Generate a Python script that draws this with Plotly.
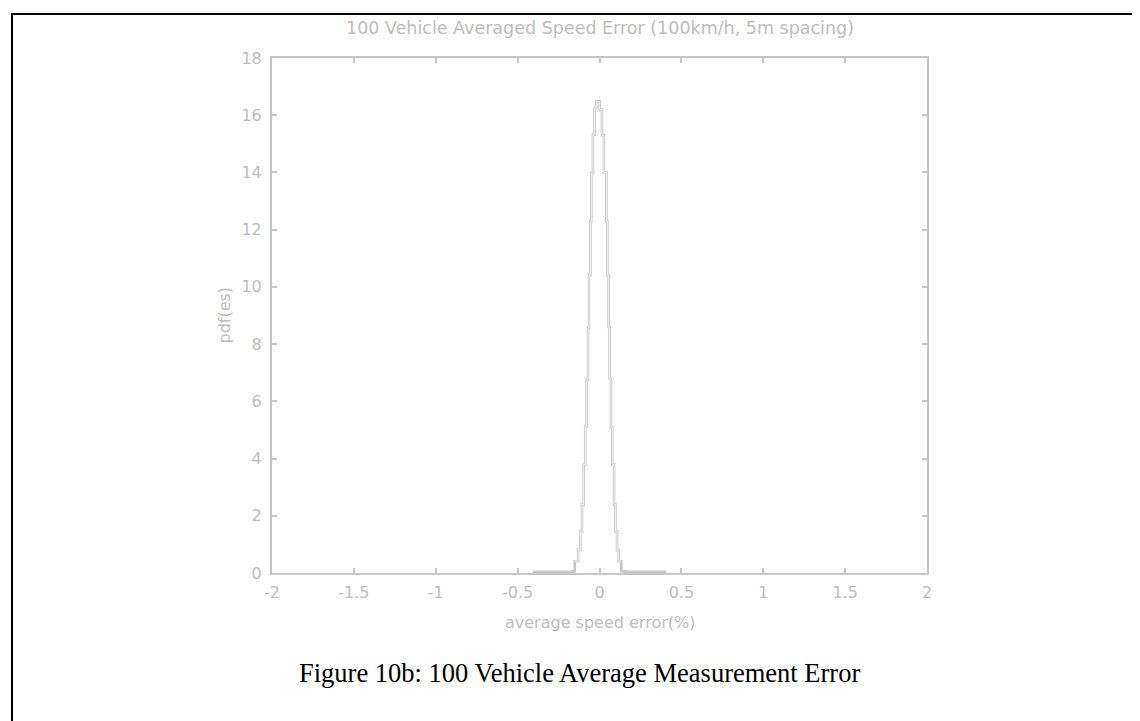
import plotly.graph_objects as go

# ---- data (stair-step pdf) ----
bin_edges = [-0.40, -0.162, -0.151, -0.131, -0.117, -0.107, -0.097, -0.087, -0.078,
             -0.070, -0.064, -0.056, -0.050, -0.040, -0.030, -0.020, 0.001, 0.015,
             0.027, 0.042, 0.048, 0.056, 0.062, 0.070, 0.078, 0.089, 0.097, 0.107,
             0.117, 0.133, 0.154, 0.40]
pdf_values = [0.04, 0.06, 0.41, 0.82, 1.46, 2.39, 3.79, 5.13, 6.76, 8.56, 10.43,
              12.29, 13.98, 15.32, 16.25, 16.49, 16.2, 15.3, 14.0, 12.3, 10.4, 8.6,
              6.8, 5.1, 3.8, 2.4, 1.46, 0.8, 0.41, 0.06, 0.04]

x_ticks = [-2, -1.5, -1, -0.5, 0, 0.5, 1, 1.5, 2]
x_tick_labels = ["-2", "-1.5", "-1", "-0.5", "0", "0.5", "1", "1.5", "2"]
y_ticks = [0, 2, 4, 6, 8, 10, 12, 14, 16, 18]
y_tick_labels = ["0", "2", "4", "6", "8", "10", "12", "14", "16", "18"]

title_text = "100 Vehicle Averaged Speed Error (100km/h, 5m spacing)"
x_label = "average speed error(%)"
y_label = "pdf(es)"
caption = "Figure 10b: 100 Vehicle Average Measurement Error"

# ---- build stair line ----
xs = [bin_edges[0]] + bin_edges
ys = [0] + pdf_values + [0]
# inner part (used for the hollow, double-stroke look of the rasterised line)
inner_x = bin_edges[2:-2]
inner_y = pdf_values[2:-2] + [pdf_values[-3]]

GRAY = "#c6c6c6"
TXT = "#bdbdbd"
FONT = "DejaVu Sans"

W, H = 1140, 721
L, R, T, B = 264, 919, 50, 565
pw, ph = R - L, B - T


def px(x):
    return (x - L) / pw


def py(y):
    return (B - y) / ph


fig = go.Figure()
fig.add_trace(go.Scatter(x=xs, y=ys, mode="lines", line=dict(shape="hv", color=GRAY, width=2.6),
                         hoverinfo="skip", showlegend=False))
fig.add_trace(go.Scatter(x=inner_x, y=inner_y, mode="lines",
                         line=dict(shape="hv", color="white", width=0.8),
                         hoverinfo="skip", showlegend=False))

axis_common = dict(showline=True, linecolor=GRAY, linewidth=2, mirror="ticks",
                   ticks="inside", ticklen=5, tickwidth=1.5, tickcolor=GRAY,
                   showgrid=False, zeroline=False,
                   tickfont=dict(family=FONT, size=16, color=TXT))

fig.update_xaxes(range=[-2, 2], tickvals=x_ticks, ticktext=x_tick_labels,
                 ticklabelstandoff=4, **axis_common)
fig.update_yaxes(range=[0, 18], tickvals=y_ticks, ticktext=y_tick_labels,
                 ticklabelstandoff=5, **axis_common)

annotations = [
    dict(text=title_text, x=0.5, y=1, xref="paper", yref="paper", xanchor="center",
         yanchor="middle", yshift=T - 20, showarrow=False,
         font=dict(family=FONT, size=17.5, color=TXT)),
    dict(text=x_label, x=0.5, y=0, xref="paper", yref="paper", xanchor="center",
         yanchor="middle", yshift=-(614 - B), showarrow=False,
         font=dict(family=FONT, size=16, color=TXT)),
    dict(text=y_label, x=0, y=0.5, xref="paper", yref="paper", xanchor="center",
         yanchor="middle", xshift=-(L - 216), textangle=-90, showarrow=False,
         font=dict(family=FONT, size=16, color=TXT)),
    dict(text=caption, x=px(571), y=py(665), xref="paper", yref="paper",
         xanchor="center", yanchor="middle", showarrow=False,
         font=dict(family="Liberation Serif", size=26.5, color="black")),
]

shapes = [
    dict(type="line", xref="paper", yref="paper", x0=px(4), x1=px(4), y0=py(5), y1=py(H + 5),
         line=dict(color="black", width=2)),
    dict(type="line", xref="paper", yref="paper", x0=px(3), x1=px(W + 5), y0=py(6), y1=py(6),
         line=dict(color="black", width=2)),
]

fig.update_layout(width=W, height=H, margin=dict(l=L, r=W - R, t=T, b=H - B),
                  paper_bgcolor="white", plot_bgcolor="white",
                  annotations=annotations, shapes=shapes)

fig.write_html("out.html")
